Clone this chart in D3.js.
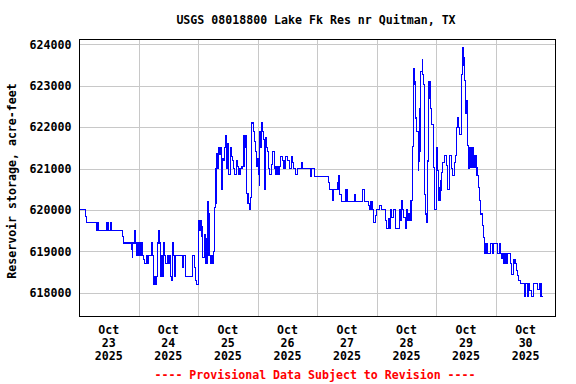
<!DOCTYPE html>
<html>
<head>
<meta charset="utf-8">
<script src="https://cdn.jsdelivr.net/npm/d3@7/dist/d3.min.js"></script>
<style>
  html, body { margin: 0; padding: 0; background: #fff; }
  svg { display: block; }
  text { font-family: "DejaVu Sans Mono", "Liberation Mono", monospace; font-weight: bold; }
</style>
</head>
<body>
<svg id="chart" width="576" height="384"></svg>
<script>
// ---- Data (hours after Oct 23 2025 00:00, storage in acre-feet) ----
const hours = [
  0, 2.7, 3.0, 6.9, 7.1, 7.4, 7.6, 7.9, 11.0, 11.3,
  11.5, 11.8, 12.9, 13.2, 17.5, 17.8, 21.0, 21.4, 21.7, 22.3,
  22.7, 23.3, 23.6, 24.0, 24.4, 24.8, 25.2, 25.6, 26.0, 26.4,
  27.2, 27.5, 27.8, 29.3, 29.6, 30.0, 30.5, 30.9, 31.3, 31.6,
  32.0, 32.6, 32.9, 33.3, 33.6, 34.0, 34.5, 35.0, 35.5, 36.0,
  36.5, 37.0, 37.4, 37.7, 38.2, 38.6, 39.0, 41.7, 42.2, 43.1,
  45.8, 46.7, 47.0, 47.5, 48.0, 48.3, 48.6, 49.0, 49.3, 49.6,
  49.9, 50.4, 50.8, 51.2, 51.6, 52.0, 52.3, 52.6, 53.1, 53.5,
  53.9, 54.3, 54.7, 55.0, 55.2, 55.6, 56.0, 56.3, 56.8, 57.1,
  57.4, 57.9, 58.3, 58.7, 59.0, 59.3, 59.5, 59.8, 60.1, 60.9,
  61.2, 61.6, 61.9, 62.3, 62.7, 63.3, 63.6, 63.8, 64.4, 64.9,
  65.7, 66.5, 66.8, 67.0, 67.3, 67.6, 68.1, 68.6, 69.2, 69.7,
  70.3, 70.8, 71.3, 71.6, 71.9, 72.2, 72.4, 72.7, 72.9, 73.2,
  73.5, 74.0, 74.3, 74.6, 75.0, 75.3, 75.6, 75.9, 76.3, 76.7,
  77.5, 78.0, 78.8, 79.1, 79.4, 80.2, 80.7, 81.2, 82.0, 82.6,
  83.1, 83.9, 84.7, 85.8, 86.2, 86.6, 87.4, 87.9, 89.6, 90.1,
  93.2, 93.8, 94.9, 100.4, 100.9, 102.2, 102.6, 104.2, 104.5, 104.8,
  105.1, 105.8, 107.6, 108.0, 111.0, 111.4, 114.3, 115.1, 116.5, 117.0,
  117.4, 118.1, 118.8, 119.5, 119.9, 121.2, 121.8, 123.6, 124.1, 124.6,
  125.0, 125.4, 126.0, 126.6, 127.4, 129.0, 129.3, 129.6, 130.1, 130.4,
  130.7, 131.5, 132.0, 132.4, 132.8, 133.3, 133.8, 134.5, 134.7, 135.0,
  135.3, 135.6, 136.1, 136.7, 137.0, 137.2, 137.5, 137.7, 138.3, 138.6,
  138.8, 139.1, 139.4, 139.7, 139.9, 140.5, 141.0, 141.3, 141.6, 141.8,
  142.1, 142.7, 143.2, 144.0, 144.2, 144.5, 144.8, 145.1, 145.6, 145.9,
  146.1, 146.6, 147.3, 148.2, 148.6, 149.3, 150.1, 150.6, 151.4, 151.9,
  152.3, 152.7, 153.0, 153.2, 154.0, 154.6, 154.8, 155.1, 155.4, 155.6,
  155.9, 156.1, 156.4, 156.7, 157.0, 157.2, 157.5, 157.8, 158.1, 158.4,
  158.8, 159.1, 159.4, 159.8, 160.1, 160.4, 160.9, 161.4, 161.9, 162.5,
  163.0, 163.3, 163.6, 163.9, 164.2, 164.6, 165.8, 166.7, 167.2, 168.8,
  169.3, 169.9, 170.4, 170.7, 171.2, 171.7, 172.1, 172.5, 173.8, 174.3,
  175.1, 175.7, 176.2, 176.6, 177.0, 177.8, 179.4, 179.9, 180.7, 181.2,
  181.7, 182.3, 183.1, 184.9, 185.7, 186.2, 187.0
];
const storage = [
  620000, 619850, 619700, 619500, 619700, 619500, 619700, 619500, 619700, 619500,
  619700, 619500, 619700, 619500, 619350, 619200, 619050, 618850, 619200, 619500,
  619200, 618900, 619200, 618900, 619200, 618900, 619200, 618900, 618800, 618700,
  618900, 618700, 618900, 619200, 618900, 618200, 618400, 618200, 618400, 619200,
  619500, 619200, 618400, 618900, 618400, 619200, 618900, 618700, 618900, 618700,
  618900, 618400, 618300, 619200, 618900, 618400, 618900, 618600, 618900, 618400,
  618900, 618600, 618300, 618200, 619100, 619750, 619500, 619750, 619350, 619600,
  618850, 619400, 619300, 618700, 618900, 620200, 619900, 618900, 618700, 618900,
  618700, 619000, 620050, 620150, 621000, 621350, 621000, 621500, 621350, 621500,
  620500, 621250, 621200, 621500, 621800, 621350, 621000, 621600, 620850, 621200,
  621500, 621300, 621200, 621000, 620850, 621000, 621200, 621050, 620850, 621000,
  621050, 621800, 621650, 621800, 621500, 620400, 620150, 620000, 620300, 622100,
  621900, 621650, 621400, 621050, 621250, 620850, 621000, 620600, 621900, 621500,
  622100, 621900, 621700, 620500, 620850, 621750, 621500, 621400, 621000, 620850,
  621100, 621400, 621000, 620850, 621050, 620850, 621050, 621300, 621200, 621000,
  621300, 621200, 621000, 621300, 621150, 621000, 620850, 621000, 621150, 621000,
  620800, 621000, 620800, 620660, 620500, 620220, 620500, 620660, 620820, 620500,
  620380, 620200, 620500, 620200, 620380, 620200, 620500, 620200, 620100, 620000,
  620200, 620000, 619700, 619860, 620000, 620100, 620000, 619750, 619540, 619800,
  619540, 620000, 619820, 620000, 619540, 619750, 620000, 619750, 620220, 620000,
  619820, 619540, 620000, 619750, 619900, 619750, 620220, 621540, 623020, 623420,
  623100, 622220, 621900, 620950, 621180, 622460, 621420, 623340, 623620, 623260,
  623020, 622000, 620380, 619900, 619700, 621180, 623100, 622700, 623100, 622460,
  622060, 621020, 620000, 621000, 621510, 620950, 620550, 620220, 620710, 620470,
  620910, 621150, 621310, 621070, 620500, 621310, 621000, 620830, 621150, 621310,
  622000, 622240, 622000, 621830, 623280, 623920, 623500, 623680, 623120, 622720,
  622320, 622640, 622320, 621550, 621000, 621510, 621030, 621510, 621030, 621510,
  621030, 621310, 621030, 621310, 621030, 620830, 620550, 620220, 619900, 619620,
  619340, 618940, 619180, 618940, 619180, 618940, 619180, 618940, 619180, 618940,
  619180, 618940, 618820, 618940, 618700, 618940, 618700, 618940, 618700, 618440,
  618800, 618700, 618540, 618420, 618300, 618220, 617910, 618220, 617910, 618220,
  618050, 617910, 618220, 618070, 618220, 617910, 617910
];
const yTicks = [618000, 619000, 620000, 621000, 622000, 623000, 624000];
const dayLabels = ["23", "24", "25", "26", "27", "28", "29", "30"];
const monthLabel = "Oct";
const yearLabel = "2025";
const titleText = "USGS 08018800 Lake Fk Res nr Quitman, TX";
const yTitle = "Reservoir storage, acre-feet";
const noteText = "---- Provisional Data Subject to Revision ----";

// ---- Chart ----
(function () {
  const start = Date.UTC(2025, 9, 23);
  const end = Date.UTC(2025, 9, 31);
  const HOUR = 3600 * 1000;
  const data = hours.map((h, i) => ({ t: new Date(start + h * HOUR), v: storage[i] }));

  const pL = 79.5, pR = 555.5, pT = 39.5, pB = 316.5;
  const x = d3.scaleUtc().domain([new Date(start), new Date(end)]).range([79, 555.4]);
  const y = d3.scaleLinear().domain([618000, 624000]).range([292.7, 44.3]);

  const svg = d3.select("#chart");
  const fs = 11.6;

  // grid
  const grid = svg.append("g").attr("stroke", "#c8c8c8").attr("stroke-width", 1).attr("shape-rendering", "crispEdges");
  grid.selectAll("line.h").data(yTicks).join("line")
    .attr("x1", pL).attr("x2", pR)
    .attr("y1", d => Math.round(y(d)) + 0.5).attr("y2", d => Math.round(y(d)) + 0.5);
  const days = d3.utcDay.range(new Date(start + 24 * HOUR), new Date(end));
  grid.selectAll("line.v").data(days).join("line")
    .attr("x1", d => Math.round(x(d)) + 0.5).attr("x2", d => Math.round(x(d)) + 0.5)
    .attr("y1", pT).attr("y2", pB);

  // line
  const line = d3.line().curve(d3.curveStepAfter).x(d => x(d.t)).y(d => y(d.v));
  svg.append("path").datum(data)
    .attr("d", line)
    .attr("fill", "none")
    .attr("stroke", "#0000ff")
    .attr("stroke-width", 1.1)
    .attr("shape-rendering", "crispEdges");

  // frame
  svg.append("rect").attr("x", pL).attr("y", pT)
    .attr("width", pR - pL).attr("height", pB - pT)
    .attr("fill", "none").attr("stroke", "#000").attr("stroke-width", 1)
    .attr("shape-rendering", "crispEdges");

  // y axis labels
  const yAxis = d3.axisLeft(y).tickValues(yTicks).tickSize(0).tickPadding(8).tickFormat(d3.format("d"));
  const ya = svg.append("g").attr("transform", `translate(${pL},0)`).call(yAxis);
  ya.select(".domain").remove();
  ya.selectAll("text").attr("font-size", fs).attr("font-family", "DejaVu Sans Mono").attr("font-weight", "bold").attr("fill", "#000");

  // x labels (at noon of each day)
  const xl = svg.append("g");
  dayLabels.forEach((lab, i) => {
    const cx = x(new Date(start + (i * 24 + 12) * HOUR));
    const t = xl.append("text").attr("text-anchor", "middle").attr("font-size", fs).attr("fill", "#000");
    t.append("tspan").attr("x", cx).attr("y", 334).text(monthLabel);
    t.append("tspan").attr("x", cx).attr("y", 347).text(lab);
    t.append("tspan").attr("x", cx).attr("y", 360).text(yearLabel);
  });

  // title
  svg.append("text").attr("x", 316).attr("y", 24).attr("text-anchor", "middle")
    .attr("font-size", fs).attr("fill", "#000").text(titleText);

  // y title
  svg.append("text").attr("transform", "translate(16,181) rotate(-90)")
    .attr("text-anchor", "middle").attr("font-size", fs).attr("fill", "#000").text(yTitle);

  // note
  svg.append("text").attr("x", 315).attr("y", 379).attr("text-anchor", "middle")
    .attr("font-size", fs).attr("fill", "#ff0000").text(noteText);
})();
</script>
</body>
</html>
